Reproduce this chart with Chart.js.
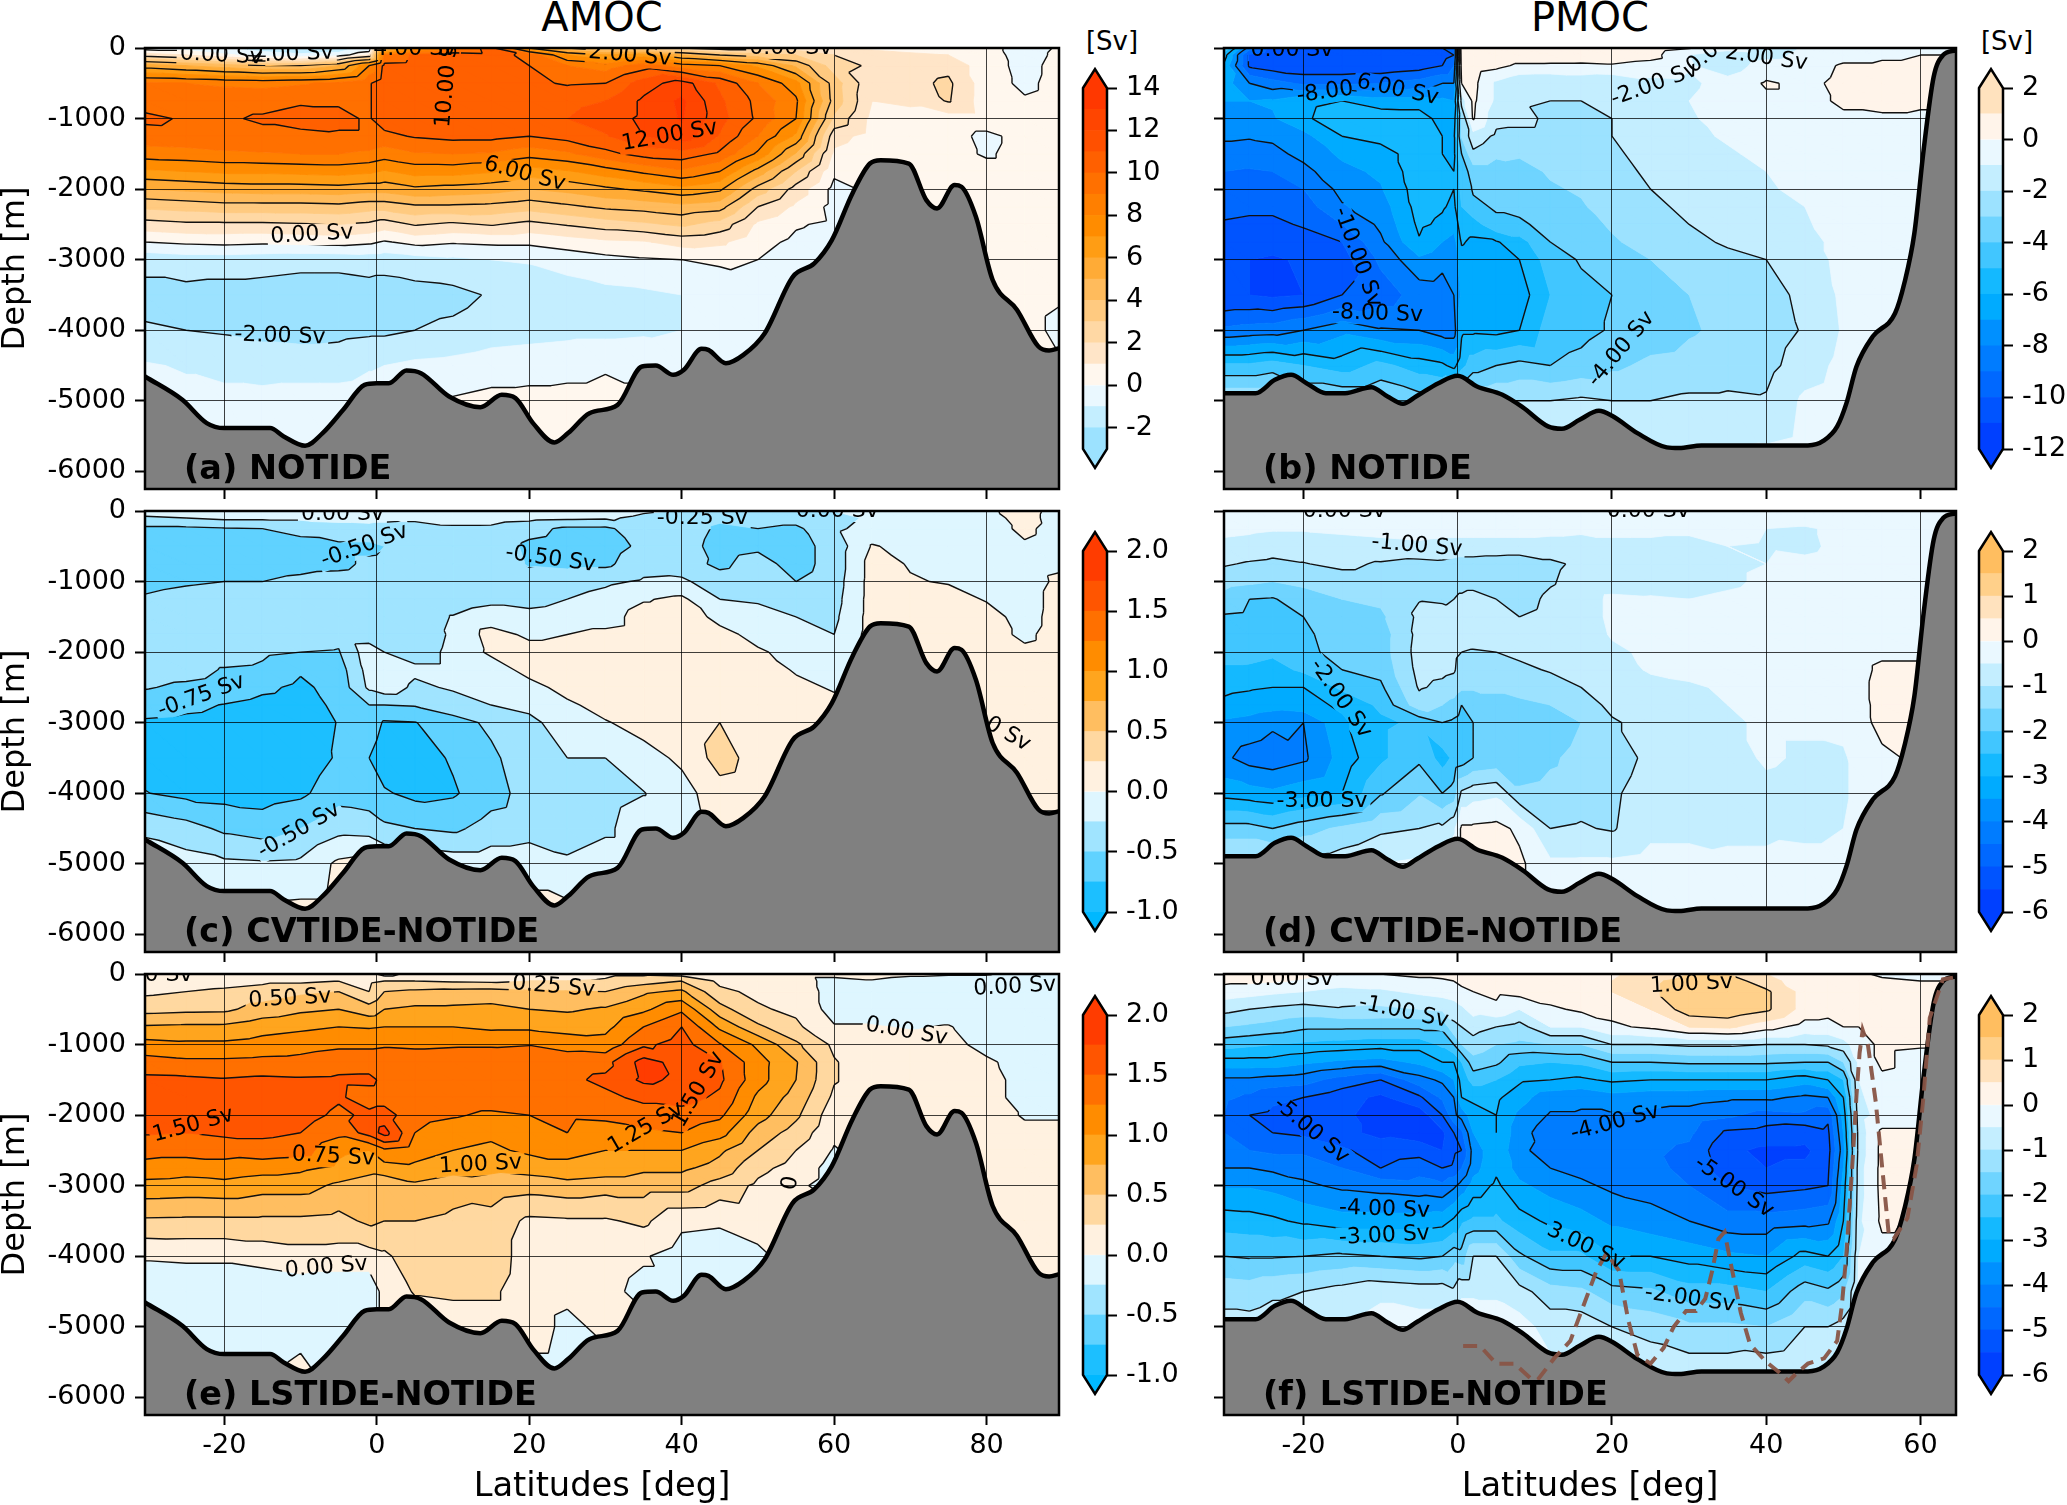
<!DOCTYPE html>
<html>
<head>
<meta charset="utf-8">
<title>AMOC / PMOC</title>
<script src="https://cdn.jsdelivr.net/npm/chart.js@4/dist/chart.umd.min.js"></script>
<style>
html,body{margin:0;padding:0;background:#fff;width:2067px;height:1505px;overflow:hidden}
canvas{position:absolute}
.t{position:absolute;font-family:"DejaVu Sans";color:#000;white-space:nowrap;transform:translateX(-50%)}
</style>
</head>
<body>
<div class="t" style="left:602px;top:-6px;font-size:40px">AMOC</div>
<div class="t" style="left:1590px;top:-6px;font-size:40px">PMOC</div>
<div class="t" style="left:1112px;top:26px;font-size:26px">[Sv]</div>
<div class="t" style="left:2007px;top:26px;font-size:26px">[Sv]</div>
<script>
// depth levels shared by every section [m]
const depths = [0,100,250,500,750,1000,1250,1500,1750,2000,2250,2500,2750,3000,3500,4000,4500,5000,5750];
const atlLat = [-30.4,-25,-20,-15,-10,-5,-1,1,5,10,15,20,25,30,35,40,45,50,55,60,65,70,75,80,85,89.5];
const pacLat = [-30.3,-27,-24,-20,-15,-10,-5,-2,-.5,.5,2,5,8,12,16,20,25,30,35,40,45,50,55,60,64.6];
const pacLatF = [-30.3,-27,-24,-20,-15,-10,-5,-2,-.5,.5,2,5,8,12,16,20,25,30,35,40,45,48,50,52,55,60,64.6];

// bottom topography
const atlBottomLat = [-30.4,-25.5,-22.3,-20,-14,-12.2,-9.4,-7.1,-4.4,-1.6,0,1.6,3.9,5.8,9.5,13.6,16.4,18.2,20.5,23.3,25.1,27.9,31.6,34.8,36.6,38.9,40.3,42.6,43.5,45.8,48.1,50.9,54.6,57.4,59.7,62.4,64.7,66.1,69.8,72.1,73.5,75.8,76.7,78.6,80.8,84,86.8,88.2,89.5];
const atlBottomDepth = [4656,4986,5316,5387,5387,5505,5637,5458,5127,4774,4750,4750,4570,4608,4939,5090,4915,4962,5316,5590,5458,5175,5057,4514,4500,4632,4561,4264,4278,4467,4349,4042,3240,3052,2722,2061,1637,1590,1637,2156,2274,1943,1967,2392,3288,3712,4231,4288,4255];
const pacBottomLat = [-30.3,-26.2,-23.7,-21.6,-19.6,-17.1,-14.6,-11.2,-9.1,-7.1,-5.4,-2.5,0,2.5,5.8,8.4,11.7,13.5,15.8,18.3,20,23.3,27.1,28.7,31.6,45.4,47.5,49.2,50.4,51.7,53.8,56.7,57.9,59.2,60.4,61.7,62.9,64.6];
const pacBottomDepth = [4892,4892,4703,4632,4750,4892,4892,4807,4939,5042,4939,4750,4646,4797,4915,5090,5363,5396,5269,5142,5212,5458,5660,5670,5632,5632,5561,5363,5033,4514,4090,3760,3335,2627,1448,410,104,33];

// dashed line of panel f
const dashLat = [.7,2.9,5,7.35,9.6,10.4,12.5,14.6,16.3,18,19.3,20.9,22.1,23.3,25,26.7,28,29.6,30.9,32.1,33,33.8,34.6,35.4,36.7,37.9,40,41.7,42.9,43.8,45.4,47.5,49.2,49.8,50.4,51.3,51.7,52.1,52.5,53.2,54.2,55,55.9,56.5,58.3,59.5,60.4,61.2,62.9,64.3];
const dashDepth = [5273,5273,5522,5522,5746,5746,5448,5199,4701,4204,3955,4204,4900,5398,5522,5299,5000,4776,4776,4600,4204,3756,3657,4104,4801,5249,5498,5647,5771,5672,5522,5448,5199,4701,3955,2463,1716,1119,796,1020,1816,2711,3706,3756,3458,2711,1716,622,75,50];

// streamfunction [Sv], one row per latitude, values down the depth levels
const amocNotide = [
[-.5,1.5,5.5,9.1,9.6,10.2,9.6,8.5,6.8,5,3.2,1.6,0,-1.7,-2.3,-1.9,-.9,-.6,-.6],
[-.5,1,5,9,9.6,9.9,9.7,8.6,7,5.2,3.4,1.8,.2,-1.5,-2.3,-2,-1.1,-.7,-.7],
[-1,.2,4.5,8.8,9.7,9.9,9.8,8.8,7.2,5.4,3.6,1.8,.3,-1.5,-2.4,-2.1,-1.3,-.7,-.7],
[-1.5,-.5,4,8.7,9.7,10.1,9.8,8.9,7.2,5.5,3.6,1.8,.2,-1.6,-2.4,-2.3,-1.4,-.7,-.7],
[-1.8,-.8,4,8.9,9.9,10.3,9.8,9,7.3,5.5,3.6,1.9,.3,-1.7,-2.5,-2.4,-1.4,-.6,-.6],
[-1.8,-.5,5,9.2,9.9,10.2,9.9,9,7.4,5.6,3.7,2,.4,-1.7,-2.5,-2.3,-1.4,-.6,-.6],
[-1,1,8,9.9,9.9,9.9,9.9,8.8,7.2,5.4,3.4,1.8,.2,-1.6,-2.4,-2.2,-1.1,-.5,-.5],
[4,9,10.3,10.6,10.6,10.6,9.7,8.5,6.9,5.4,3.4,1.5,-.1,-1.6,-2.5,-2.2,-1,-.5,-.5],
[7,10.2,10.4,10.5,10.7,10.7,10.1,8.9,7.4,5.8,3.8,2.1,.3,-1.4,-2.4,-2,-.8,-.3,-.3],
[9,10.5,10.5,10.2,10.7,10.9,10.3,9,7.4,5.6,3.8,1.8,.1,-1.2,-2.3,-1.8,-.7,.1,.1],
[10.4,10.3,10.1,10,10.6,10.6,10.3,8.9,7.1,5.4,3.7,2.1,.2,-1,-1.9,-1.5,-.5,.3,.3],
[6,9.8,10,10.2,10.6,10.7,10,8.4,6.5,5,3.4,1.7,.2,-.9,-1.7,-1.4,-.4,.3,.4],
[4,7,9,9.9,10.7,11,10.4,8.8,6.9,5.3,3.8,2.1,.5,-.6,-1.5,-1.3,-.3,.3,.3],
[3,6,8.5,10,11,11.5,10.9,9.7,7.5,5.8,4.2,2.5,.8,-.3,-1.3,-1.3,-.1,.3,.3],
[2.5,6.5,9.5,11.5,12.2,12.2,12,10.4,8.2,6.2,4.4,2.8,.9,-.1,-1.2,-1.2,-.1,.1,.1],
[2,5,8.5,12.5,13.2,13.1,12.7,10.6,8.8,6.7,4.7,3.2,1.4,0,-1,-1,-.3,-.3,-.3],
[1.5,4,8,10.8,11.2,11.4,10.9,9.8,8,6.2,4.4,2.6,1.2,.2,-.8,-.6,-.5,-.3,-.3],
[1.5,3.5,6.8,9,9.7,9.8,9,7.8,5.6,3.6,2,.8,.3,0,-.5,-.5,-.5,-.3,-.3],
[1.5,3,4.8,7.4,8.2,8,6.8,4.9,3,1.6,.8,.1,-.2,-.5,-.4,-.3,-.3,-.3,-.3],
[1,2,2.5,3.5,3.6,2.8,1.4,.8,.2,-.3,-.3,-.2,-.4,-.4,-.3,-.3,-.3,-.3,-.3],
[.8,1.5,1.8,1.2,1,.7,.6,.3,.2,.2,.2,.2,.2,.2,.2,.2,.2,.2,.2],
[.6,1.2,1.5,1.7,1.2,.6,.4,.3,.3,.3,.3,.3,.3,.3,.3,.3,.3,.3,.3],
[.6,1,1.7,2.2,2.1,.5,.3,.3,.3,.3,.3,.3,.3,.3,.3,.3,.3,.3,.3],
[.3,.4,.4,.4,.4,.5,-.2,-.1,.3,.3,.3,.3,.3,.3,.3,.3,.3,.3,.3],
[-.4,-.4,-.3,-.2,.1,.3,.3,.3,.3,.3,.3,.3,.3,.3,.3,.3,.3,.3,.3],
[.1,.2,.3,.3,.3,.3,.3,.3,.3,.3,.3,.3,.3,.2,.1,-.2,.1,.1,.1]];
const pmocNotide = [
[-4,-5.5,-6.2,-6.5,-7,-7.3,-7.8,-8.5,-9,-9.4,-9.7,-10.1,-10.5,-10.9,-11,-8.8,-4.8,-2,-2],
[-8.5,-10.2,-10.2,-8,-7,-7.3,-7.9,-8.5,-9.1,-9.5,-9.8,-10.2,-10.6,-11,-11,-8.6,-4.8,-2,-2],
[-10.5,-10.8,-10.6,-8.6,-6.9,-7.1,-7.8,-8.3,-9,-9.5,-9.8,-10.2,-10.7,-11.1,-11.2,-8.5,-4.5,-2,-2],
[-10.8,-11,-10.8,-9.2,-6.5,-6.3,-7.3,-7.7,-8.3,-9,-9.5,-9.9,-10.4,-10.9,-11,-8,-5,-3,-3],
[-10.8,-11,-10.8,-9.2,-6,-5,-6,-6.8,-7.3,-7.7,-8.1,-9,-10,-10.4,-10,-7.3,-5.5,-3,-3],
[-10.5,-11,-10.8,-9,-6.5,-5.4,-5.6,-6.5,-6.8,-7.1,-7.5,-7.8,-8.2,-8.8,-9.5,-7.9,-4.7,-3,-3],
[-10,-10.5,-10.5,-8.6,-6.5,-5.5,-5.4,-5.4,-5.4,-5.5,-5.6,-5.8,-6.1,-7.2,-8.6,-8,-5.5,-3.5,-3],
[-10,-10.5,-10,-8,-6.8,-6.4,-6,-6,-5.8,-5.7,-5.9,-6.2,-7,-7.7,-8.5,-8.5,-5.8,-3.5,-3],
[-10,-10,-9,-8,-7,-6.5,-6.2,-6.2,-6,-6,-6.2,-6.6,-7.4,-7.6,-8,-8.5,-6.3,-3,-3],
[1,.8,.6,0,-1.5,-3,-2.9,-4,-4.6,-4.7,-5,-5.5,-5.9,-6.4,-6.8,-6.2,-5.3,-2.5,-2],
[1,.9,.6,.3,.2,.1,-1.4,-2.2,-3.5,-3.9,-4.2,-5.5,-6.2,-6.5,-7,-6.2,-4.5,-2,-2],
[1,.8,.3,-1.2,-1.2,-1.7,-2.2,-2.8,-3.5,-3.8,-3.9,-4.2,-6.1,-6.8,-7,-6.3,-4,-2,-1.5],
[1,.8,-.2,-1.8,-1.9,-1.7,-2.3,-2.9,-3.3,-3.5,-3.7,-4.2,-5.4,-6,-6.5,-6,-3.7,-2,-1.5],
[.9,.7,-.2,-1.9,-2,-2.2,-2.3,-2.5,-2.9,-3.1,-3.4,-3.6,-4,-4.5,-5,-4.5,-4,-2,-1.5],
[.8,.6,-.2,-1.7,-2,-2.2,-2.3,-2.4,-2.6,-2.9,-3.1,-3.3,-3.5,-3.9,-4.3,-4.3,-3.7,-1.8,-1.5],
[.8,.6,-.1,-1.9,-2,-2,-2,-2.1,-2.2,-2.4,-2.6,-2.9,-3.1,-3.4,-4,-3.9,-3.2,-2,-1.3],
[.6,.4,-.4,-1.3,-1.5,-1.6,-1.7,-1.8,-1.9,-2,-2.2,-2.4,-2.7,-3,-3.5,-3.5,-2.8,-2,-1.2],
[.1,-1,-.9,-1.2,-1,-1.1,-1.2,-1.4,-1.6,-1.7,-1.8,-2,-2.2,-2.6,-3,-3.1,-2.7,-1.8,-1],
[-.5,-1.8,-1.6,-.6,-.5,-.7,-.9,-1.1,-1.3,-1.4,-1.5,-1.7,-1.9,-2.2,-2.6,-2.8,-2.5,-1.8,-.9],
[-1.6,-1.4,-.5,.1,-.2,-.4,-.6,-.8,-1,-1.1,-1.3,-1.5,-1.7,-2,-2.3,-2.5,-2.3,-1.9,-.8],
[-.9,-.7,-.4,-.2,-.2,-.3,-.5,-.6,-.7,-.8,-1,-1.1,-1.3,-1.5,-1.8,-1.9,-1.5,-.8,-.6],
[-.5,-.3,.1,.2,.1,-.1,-.2,-.3,-.4,-.5,-.5,-.6,-.7,-.7,-.8,-.9,-.7,-.5,-.4],
[-.2,-.1,.1,.2,.2,-.1,-.2,-.2,-.2,-.3,-.3,-.3,-.3,-.3,-.3,-.3,-.3,-.3,-.3],
[-.2,0,.1,.2,.1,-.1,-.2,-.2,-.2,-.2,-.2,-.2,-.2,-.2,-.2,-.2,-.2,-.2,-.2],
[-.2,0,.1,.2,.1,-.1,-.2,-.2,-.2,-.2,-.2,-.2,-.2,-.2,-.2,-.2,-.2,-.2,-.2]];
const amocCvtide = [
[-.1,-.3,-.55,-.62,-.62,-.55,-.48,-.42,-.38,-.36,-.38,-.48,-.65,-.78,-.85,-.74,-.3,-.1,-.1],
[-.1,-.25,-.55,-.65,-.62,-.52,-.44,-.38,-.36,-.36,-.4,-.55,-.7,-.8,-.9,-.82,-.4,-.15,-.1],
[-.1,-.2,-.52,-.6,-.6,-.5,-.42,-.36,-.33,-.36,-.52,-.6,-.76,-.82,-.9,-.84,-.55,-.2,-.1],
[-.1,-.2,-.5,-.58,-.58,-.5,-.42,-.33,-.33,-.45,-.55,-.7,-.82,-.88,-.92,-.86,-.62,-.22,.1],
[-.1,-.2,-.45,-.56,-.56,-.46,-.4,-.36,-.36,-.5,-.72,-.8,-.85,-.88,-.9,-.8,-.5,-.2,.1],
[-.05,-.18,-.35,-.55,-.55,-.42,-.36,-.36,-.42,-.52,-.62,-.66,-.7,-.74,-.72,-.6,-.33,.05,.1],
[-.05,-.15,-.35,-.55,-.46,-.4,-.35,-.3,-.4,-.1,-.15,-.2,-.5,-.6,-.75,-.65,-.35,.1,.1],
[-.02,-.15,-.4,-.5,-.45,-.4,-.35,-.35,-.42,-.25,-.05,-.1,-.5,-.78,-.9,-.72,-.45,0,.1],
[-.02,-.15,-.45,-.42,-.4,-.38,-.35,-.35,-.38,-.35,-.2,-.3,-.48,-.76,-.87,-.82,-.5,-.05,.05],
[-.02,-.14,-.3,-.33,-.36,-.37,-.35,-.24,-.22,-.2,-.2,-.22,-.36,-.6,-.72,-.78,-.55,-.1,.1],
[-.02,-.15,-.3,-.36,-.36,-.36,-.3,-.15,.1,.05,-.15,-.18,-.25,-.45,-.55,-.6,-.4,-.1,.1],
[-.02,-.18,-.42,-.55,-.52,-.42,-.36,-.15,-.05,.1,.1,-.1,-.2,-.3,-.35,-.4,-.35,-.1,.1],
[-.05,-.2,-.55,-.6,-.55,-.38,-.25,-.1,0,.1,.1,.1,-.05,-.15,-.25,-.3,-.4,-.2,.1],
[-.12,-.22,-.55,-.6,-.55,-.3,-.15,-.1,.05,.1,.1,.12,.1,-.02,-.25,-.35,-.3,-.1,.1],
[-.22,-.3,-.35,-.45,-.35,-.22,-.02,.1,.1,.12,.1,.1,.1,.1,-.1,-.26,-.1,-.1,.1],
[-.26,-.35,-.35,-.38,-.4,-.2,.05,.1,.1,.12,.1,.1,.1,.1,.05,-.1,-.1,-.1,.1],
[-.3,-.45,-.55,-.6,-.55,-.4,-.25,-.05,.05,.1,.1,.1,.1,.25,.35,.15,.1,.1,.1],
[-.3,-.4,-.5,-.55,-.4,-.35,-.3,-.1,-.05,.02,.1,.1,.1,.2,.15,.1,.1,.1,.1],
[-.3,-.4,-.55,-.6,-.6,-.5,-.35,-.25,-.1,-.05,-.02,.05,.1,.1,.1,.1,.1,.1,.1],
[-.25,-.35,-.3,-.4,-.4,-.37,-.34,-.3,-.25,-.1,-.05,-.02,.05,.1,.1,.1,.1,.1,.1],
[-.2,-.2,-.15,.02,.1,.1,.1,.1,.1,.1,.1,.1,.1,.1,.1,.1,.1,.1,.1],
[-.1,-.1,-.15,-.08,-.02,.02,.1,.1,.1,.1,.1,.1,.1,.1,.1,.1,.1,.1,.1],
[-.1,-.12,-.12,-.12,-.1,-.02,.1,.1,.1,.1,.1,.1,.1,.1,.1,.1,.1,.1,.1],
[-.05,-.1,-.1,-.1,-.1,-.08,-.02,.1,.1,.1,.1,.1,.1,.1,.1,.1,.1,.1,.1],
[.1,.1,.05,-.03,-.1,-.12,-.12,-.1,-.05,.05,.1,.1,.1,.1,.1,.1,.1,.1,.1],
[-.1,-.12,-.1,-.1,-.05,.05,.1,.1,.1,.1,.1,.1,.1,.1,.1,.1,-.1,.1,.1]];
const pmocCvtide = [
[0,-.2,-.35,-.65,-.95,-1.3,-1.7,-2.05,-2.2,-2.25,-2.6,-2.9,-3.1,-3.6,-3.9,-3.2,-1.8,-.8,-.8],
[0,-.2,-.4,-.7,-1.05,-1.4,-2,-2.1,-2.2,-2.3,-2.6,-2.95,-3.2,-3.7,-4.2,-3.3,-1.8,-.8,-.8],
[0,-.2,-.45,-.8,-1.1,-1.5,-2.05,-2.2,-2.3,-2.4,-2.7,-3,-3.3,-3.9,-4.3,-3.4,-2,-.8,-.8],
[0,-.2,-.45,-.8,-1.02,-1.4,-1.7,-2,-2.1,-2.15,-2.4,-3,-3.2,-4,-4.1,-3.2,-1.7,-.8,-.8],
[0,-.2,-.4,-.7,-.9,-1.2,-1.5,-1.7,-1.75,-1.8,-2,-2.4,-2.9,-3.1,-3.3,-3,-1.4,-.7,-.7],
[0,-.15,-.35,-.65,-1.05,-1.2,-1.4,-1.6,-1.75,-1.75,-1.85,-2.1,-2.4,-2.6,-2.6,-2.05,-1.1,-.5,-.5],
[0,-.1,-.3,-.6,-1.15,-1.1,-1.02,-.9,-.85,-.8,-.85,-.95,-1.2,-2.4,-2.1,-1.55,-1,-.4,-.4],
[0,-.1,-.3,-.65,-1.1,-1.1,-1.05,-.85,-.8,-.75,-.9,-1.1,-1.5,-2,-2.7,-2,-.9,-.4,-.3],
[0,-.1,-.3,-.7,-1.15,-1.1,-1,-.9,-.8,-.9,-.95,-1.2,-1.7,-2.1,-2.4,-1.8,-.6,-.1,-.1],
[0,-.1,-.3,-.7,-1.2,-1.1,-.95,-.85,-.9,-1,-1.2,-1.4,-2,-2.2,-2.3,-.9,.1,.1,.1],
[0,-.1,-.3,-.7,-1.2,-1.1,-.9,-.85,-.9,-1.02,-1.15,-1.4,-2,-2,-2,-.7,.1,.1,.1],
[0,-.05,-.3,-.7,-1.25,-1.15,-1,-.85,-.9,-1,-1.15,-1.4,-1.7,-1.9,-1.9,-.6,.15,.1,.1],
[0,-.05,-.3,-.7,-1.3,-1.3,-1.2,-1,-.85,-.95,-1.05,-1.2,-1.7,-2,-1.9,-1.4,-.1,.1,.1],
[0,-.1,-.35,-.7,-1.1,-1.05,-.9,-.85,-.85,-.9,-.98,-1.1,-1.5,-1.9,-1.6,-1.3,-1,-.4,-.4],
[0,-.15,-.4,-.7,-.9,-.8,-.75,-.75,-.8,-.85,-.9,-1,-1.2,-1.5,-1.3,-1.2,-.95,-.4,-.4],
[0,-.15,-.4,-.6,-.8,-.75,-.4,-.4,-.45,-.6,-.7,-.8,-.9,-1.05,-1.3,-1.1,-1.05,-.4,-.4],
[0,-.15,-.4,-.6,-.7,-.7,-.45,-.4,-.35,-.4,-.45,-.65,-.75,-.85,-.85,-.7,-.65,-.3,-.3],
[0,-.1,-.4,-.65,-.7,-.7,-.5,-.35,-.35,-.35,-.4,-.55,-.65,-.7,-.75,-.7,-.65,-.3,-.3],
[0,-.05,-.3,-.5,-.6,-.6,-.4,-.35,-.3,-.3,-.4,-.45,-.5,-.55,-.65,-.7,-.6,-.4,-.3],
[0,-.1,-.5,-.55,-.5,-.4,-.3,-.25,-.25,-.25,-.3,-.4,-.4,-.45,-.45,-.6,-.6,-.4,-.3],
[0,-.15,-.6,-.65,-.35,-.3,-.3,-.25,-.25,-.3,-.3,-.35,-.4,-.45,-.55,-.65,-.65,-.3,-.3],
[-.1,-.1,-.3,-.3,-.2,-.25,-.25,-.3,-.3,-.3,-.3,-.3,-.35,-.4,-.55,-.55,-.5,-.3,-.3],
[-.1,-.1,-.2,-.2,-.2,-.2,-.2,-.2,-.2,-.1,.1,.15,.15,.15,-.1,-.2,-.2,-.2,-.2],
[-.1,-.1,-.2,-.2,-.2,-.2,-.15,-.2,-.2,-.1,.1,.2,.2,.2,.1,-.2,-.2,-.2,-.2],
[-.1,-.1,-.2,-.2,-.2,-.2,-.15,-.2,-.2,-.1,.1,.2,.2,.2,.1,-.2,-.2,-.2,-.2]];
const amocLstide = [
[.05,.12,.2,.41,.78,1.09,1.35,1.56,1.6,1.58,1.52,1.35,1.15,.92,.46,.03,-.2,-.1,-.1],
[.05,.12,.25,.44,.8,1.05,1.3,1.55,1.62,1.6,1.5,1.35,1.1,.9,.45,.05,-.2,-.1,-.1],
[.05,.15,.3,.45,.8,1.05,1.3,1.52,1.65,1.62,1.55,1.35,1.15,.92,.45,.05,-.2,-.2,-.1],
[.05,.2,.35,.6,.9,1.1,1.32,1.55,1.67,1.65,1.55,1.4,1.1,.85,.45,.1,-.2,-.2,-.2],
[.05,.2,.45,.7,.95,1.15,1.33,1.53,1.66,1.6,1.5,1.37,1.05,.85,.45,.15,-.15,-.1,.1],
[.05,.25,.5,.75,1,1.2,1.4,1.54,1.53,1.45,1.32,1.05,.95,.7,.42,.15,-.2,-.1,-.1],
[.1,.2,.25,.6,.98,1.2,1.4,1.55,1.4,1.55,1.6,1,.85,.6,.55,.15,-.2,-.2,-.2],
[-.1,.25,.5,.75,1,1.22,1.4,1.45,1.4,1.6,1.85,1.2,.9,.55,.5,.2,.1,.1,.1],
[.1,.25,.55,.8,1,1.2,1.4,1.45,1.38,1.35,1.25,1.1,.95,.7,.5,.4,.27,.1,.1],
[.1,.22,.58,.8,1,1.22,1.4,1.42,1.4,1.28,1.1,1,.85,.6,.45,.4,.3,.1,.1],
[.1,.2,.6,.82,.95,1.22,1.42,1.42,1.4,1.2,1.05,.95,.8,.65,.4,.4,.3,.1,.1],
[.15,.25,.55,.75,.95,1.24,1.4,1.42,1.4,1.25,1.2,1.05,.85,.6,.2,.12,.1,.1,-.1],
[.15,.25,.52,.72,.9,1.15,1.4,1.45,1.32,1.28,1.25,1.05,.95,.65,.22,.1,.05,-.05,-.1],
[.2,.28,.5,.78,.93,1.1,1.42,1.55,1.45,1.3,1.15,1,.9,.6,.22,.08,.05,.05,-.1],
[.2,.4,.7,.95,1.25,1.45,1.85,1.8,1.55,1.4,1.2,1,.8,.6,.3,.02,-.05,.05,.05],
[.15,.5,.8,1.2,1.5,1.6,1.65,1.7,1.6,1.4,1.25,1,.8,.6,.05,-.1,-.05,.05,.05],
[.1,.2,.3,.6,.95,1.27,1.52,1.55,1.45,1.3,1.1,.8,.65,.4,.03,-.12,-.1,.05,.05],
[.1,.15,.2,.28,.55,.95,1.1,1.1,.95,.85,.65,.5,.32,.2,.1,-.05,.05,.05,.05],
[.1,.12,.15,.2,.3,.55,.77,.75,.65,.55,.4,.25,.15,.05,.1,.1,.1,.1,.1],
[.1,-.1,-.1,-.1,.02,.2,.27,.27,.2,.1,.05,-.02,-.1,-.1,.1,.1,.1,.1,.1],
[.1,-.02,-.1,-.15,.02,.1,.1,.1,.1,.1,.1,.1,.1,.1,.1,.1,.1,.1,.1],
[.05,-.1,-.15,-.15,-.02,.1,.1,.1,.1,.1,.1,.1,.1,.1,.1,.1,.1,.1,.1],
[.02,-.1,-.15,-.15,.02,.1,.1,.1,.1,.1,.1,.1,.1,.1,.1,.1,.1,.1,.1],
[.02,-.1,-.15,-.15,-.15,-.1,.05,.1,.1,.1,.1,.1,.1,.1,.1,.1,.1,.1,.1],
[-.1,-.15,-.15,-.15,-.15,-.15,-.12,-.1,-.1,-.02,.05,.1,.1,.1,.1,.1,.1,.1,.1],
[-.1,-.15,-.15,-.15,-.15,-.15,-.12,-.1,-.05,-.02,.05,.1,.1,.1,.1,.1,.1,.1,.1]];
const pmocLstide = [
[.2,.1,-.2,-.85,-1.5,-2.3,-3.2,-4.1,-4.4,-4.5,-4.5,-4.3,-4,-3.55,-2.75,-2,-1.2,-.8,-.8],
[.2,.1,-.3,-1,-1.6,-2.4,-3.2,-4.1,-4.6,-5,-4.9,-4.5,-4,-3.55,-2.8,-2.05,-1.25,-.8,-.8],
[.2,.05,-.4,-1.1,-1.7,-2.5,-3.2,-4.2,-4.9,-5.1,-5,-4.6,-4.1,-3.65,-2.9,-2.05,-1.1,-.7,-.7],
[.1,-.05,-.5,-1.2,-1.9,-2.6,-3.4,-4.3,-5,-5.2,-5.1,-4.6,-4.2,-3.9,-3.1,-2,-1,-.7,-.7],
[0,-.2,-.7,-1.05,-1.9,-2.7,-3.6,-4.7,-5.3,-5.4,-5.4,-4.9,-4.5,-4.1,-3.3,-1.9,-.8,-.6,-.6],
[0,-.2,-.6,-1.1,-1.9,-2.8,-3.7,-5,-5.6,-5.7,-5.6,-5.3,-5,-4.2,-3.3,-2,-.6,-.3,-.3],
[.1,-.1,-.4,-1,-1.9,-2.8,-3.4,-4.2,-5.1,-5.8,-5.8,-5.2,-4.7,-4.3,-3.3,-2.1,-.7,-.3,-.3],
[.2,-.1,-.3,-.9,-1.9,-2.4,-3,-3.9,-4.4,-5,-5.6,-5.5,-5,-4.4,-3.2,-2,-.7,-.3,-.3],
[.2,0,-.2,-.8,-1.1,-2,-3,-3.5,-4,-4.1,-5,-5.1,-4.9,-4.1,-2.9,-1.7,-.9,-.2,-.2],
[.2,.1,-.1,-.6,-1,-1.5,-2.5,-2.8,-3,-3.8,-4.6,-5,-4.5,-3.8,-2.6,-1.8,-.6,-.1,-.1],
[.2,.1,0,-.3,-.8,-1.2,-1.7,-2.3,-2.9,-3.2,-3.5,-3.8,-3.7,-3.3,-2.4,-1,-.6,-.1,-.1],
[.3,.2,.1,-.1,-1,-1.5,-1.9,-2.5,-2.9,-3,-3,-3.1,-3.1,-2.9,-2.4,-1,-.6,-.2,-.2],
[.4,.3,.2,-.5,-1.2,-1.6,-2.4,-2.9,-3.3,-3.6,-3.8,-3.9,-3.7,-3.4,-2.8,-1.9,-.8,-.3,-.3],
[.5,.4,.3,-.1,-.5,-1.5,-2.5,-3,-3.8,-4.05,-4.3,-4.2,-4,-3.7,-3.1,-2.4,-1.3,-.7,-.3],
[.4,.4,.4,.1,-.5,-1.5,-2.4,-3.1,-3.9,-4.05,-4.4,-4.3,-4.15,-3.9,-3.3,-2.4,-1.4,-.7,-.3],
[.4,.5,.5,.2,-.1,-1,-2,-2.9,-3.7,-4.05,-4.4,-4.3,-4.2,-4.1,-3.6,-3,-1.8,-1,-.4],
[.6,.9,.9,.5,.1,-1,-2,-3,-3.8,-4.1,-4.3,-4.4,-4.3,-4.2,-3.8,-3,-1.9,-1.2,-.5],
[1,1.2,1.3,1.3,.5,-.9,-1.9,-3,-3.8,-4.2,-4.4,-4.6,-4.7,-4.5,-4,-3.2,-2.3,-1.4,-.6],
[1,1.3,1.5,1.4,.6,-.9,-1.9,-3,-3.9,-4.4,-5.1,-5.4,-5.3,-5,-4.3,-3.4,-2.3,-1.4,-.6],
[.5,.7,1.1,1.1,.2,-1,-1.9,-3,-3.9,-4.7,-5.2,-5.6,-5.5,-5.2,-4.3,-3.5,-2.5,-1.5,-.5],
[.2,.2,.3,.3,-.2,-1,-2,-3.3,-4.1,-4.6,-5.3,-5.6,-5.4,-5.1,-4.2,-2.8,-1.7,-1,-.4],
[.2,.2,.3,.2,-.2,-.9,-2,-3,-4,-4.9,-5.1,-5.2,-5.1,-5,-4.1,-3,-1.9,-1,-.4],
[.15,.3,.3,.1,0,-.7,-1.5,-2.5,-3,-3.3,-3.5,-3.7,-3.5,-3.3,-3,-2.5,-1.6,-.8,-.3],
[.1,.2,.3,.2,0,-.2,-.4,-.5,-.6,-.7,-.8,-.8,-.7,-.7,-.6,-.5,-.4,-.3,-.2],
[-.1,.1,.2,.2,.1,.1,.1,-.1,-.2,-.3,.1,.15,.15,.15,.1,-.2,-.2,-.2,-.2],
[-.1,0,.1,.2,.1,.05,-.2,-.2,-.3,-.3,.1,.15,.15,.05,-.1,-.2,-.2,-.2,-.2],
[-.1,0,.1,.2,.1,.05,-.2,-.2,-.3,-.3,.1,.15,.15,.05,-.1,-.2,-.2,-.2,-.2]];

// colour steps, coolest first
const blues = ['#0040ff','#0054ff','#0068ff','#007cff','#0090ff','#00abff','#14b9ff','#41c6ff','#6fd4ff','#9ce2ff','#c4eeff','#eaf8ff'];
const warmAmoc = ['#fff7ee','#ffe5c8','#ffd8a4','#ffca80','#ffbb5c','#ffab36','#ff9d14','#ff8c00','#ff7f00','#ff7000','#ff6000','#ff5000','#ff4500','#ff3800'];
const warmPmoc = ['#fff4ea','#ffe2be'];
const warmPmocDiff = ['#fff4ea','#ffe2be','#ffd08a','#ffbe60'];
const diffAmocColors = ['#1cbfff','#60d2ff','#a0e4ff','#def6ff','#fff1e0','#ffd8a0','#ffbe60','#ffa51e','#ff8c00','#ff7000','#ff5500','#ff3c00'];

// contour label text, latitude, depth, rotation
const labelsA = [['0.00 Sv',-20.4,108,3],['2.00 Sv',-11.1,89,-2],['2.00 Sv',33.2,108,5],['0.00 Sv',54.3,0,0],['4.00 Sv',5,15,0],['10.00 Sv',9.3,444,-85],['12.00 Sv',38.4,1247,-10],['6.00 Sv',19.4,1788,15],['0.00 Sv',-8.5,2647,-3],['-2.00 Sv',-12.7,4085,2]];
const labelsB = [['0.00 Sv',-21.5,33,0],['-8.00',-17.2,631,-8],['6.00 Sv',-7.8,594,12],['-2.00 Sv',25.5,519,-20],['0.0',31.8,145,-40],['2.00 Sv',40,145,8],['-10.00 Sv',-13,2965,70],['-8.00 Sv',-10.4,3767,2],['-4.00 Sv',21.2,4270,-50]];
const labelsC = [['0.00 Sv',-4.5,47,0],['-0.50 Sv',-1.6,495,-20],['-0.50 Sv',22.8,682,8],['-0.25 Sv',42.7,103,0],['0.00 Sv',60.4,0,0],['-0.75 Sv',-23,2624,-20],['-0.50 Sv',-10.2,4528,-30],['0 Sv',82.8,3165,30]];
const labelsD = [['0.00 Sv',-14.7,10,0],['0.00 Sv',24.7,10,0],['-1.00 Sv',-5.3,495,5],['-2.00 Sv',-15.2,2660,55],['-3.00 Sv',-17.6,4118,0]];
const labelsE = [['0.00 Sv',-29.6,20,0],['0.50 Sv',-11.4,351,-3],['0.25 Sv',23.2,183,5],['0.00 Sv',83.7,183,-3],['0.00 Sv',69.5,818,10],['1.50 Sv',-24.1,2143,-15],['0.75 Sv',-5.7,2590,3],['1.00 Sv',13.6,2703,-3],['1.25 Sv',35.3,2180,-30],['1.50 Sv',42.2,1639,-60],['0.00 Sv',-6.6,4160,-5],['0',54.3,2965,-80]];
const labelsF = [['0.00 Sv',-21.5,71,0],['1.00 Sv',30.3,146,-3],['-1.00 Sv',-7,538,12],['-5.00 Sv',-19,2218,40],['-4.00 Sv',20.4,2106,-15],['-5.00 Sv',35.8,3021,35],['-4.00 Sv',-9.5,3338,2],['-3.00 Sv',-9.5,3712,-3],['3.00 Sv',16.6,3861,25],['-2.00 Sv',30.1,4608,8]];

const latTicksAtl = [-20,0,20,40,60,80];
const latTicksPac = [-20,0,20,40,60];
const depthTicks = [0,-1000,-2000,-3000,-4000,-5000,-6000];
const font = 'DejaVu Sans';

function steps(lo, hi, d) {
    const out = [];
    for (let i = 0; lo + i * d <= hi + 1e-6; i++) out.push(+(lo + i * d).toFixed(3));
    return out;
}

// clip a triangle [[x,y,v]...] to the value range lo..hi
function clipBand(tri, lo, hi) {
    const cut = (poly, keep, lev) => {
        const out = [];
        for (let i = 0; i < poly.length; i++) {
            const a = poly[i], b = poly[(i + 1) % poly.length];
            const ka = keep(a[2]), kb = keep(b[2]);
            if (ka) out.push(a);
            if (ka !== kb) {
                const t = (lev - a[2]) / (b[2] - a[2]);
                out.push([a[0] + t * (b[0] - a[0]), a[1] + t * (b[1] - a[1]), lev]);
            }
        }
        return out;
    };
    let p = tri;
    if (lo > -Infinity) p = cut(p, v => v >= lo, lo);
    if (p.length && hi < Infinity) p = cut(p, v => v <= hi, hi);
    return p;
}

// draws the field dataset as filled bands and contour lines
const fieldPlugin = {
    id: 'field',
    beforeDraw(chart, args, o) {
        if (!o.edges) return;
        const ctx = chart.ctx, area = chart.chartArea;
        const xs = chart.scales.x, ys = chart.scales.y;
        const pts = chart.data.datasets[0].data;
        const n = o.rows;
        const m = pts.length / n;
        const tris = [];
        for (let i = 0; i < m - 1; i++) {
            for (let j = 0; j < n - 1; j++) {
                const q = [pts[i * n + j], pts[(i + 1) * n + j], pts[(i + 1) * n + j + 1], pts[i * n + j + 1]]
                    .map(p => [xs.getPixelForValue(p.x), ys.getPixelForValue(p.y), p.v + 1e-5]);
                tris.push([q[0], q[1], q[2]], [q[0], q[2], q[3]]);
            }
        }
        ctx.save();
        ctx.beginPath();
        ctx.rect(area.left, area.top, area.width, area.bottom - area.top);
        ctx.clip();
        o.colors.forEach((c, k) => {
            const lo = k === 0 ? -Infinity : o.edges[k];
            const hi = k === o.colors.length - 1 ? Infinity : o.edges[k + 1];
            ctx.beginPath();
            tris.forEach(t => {
                const p = clipBand(t, lo, hi);
                if (p.length < 3) return;
                ctx.moveTo(p[0][0], p[0][1]);
                p.slice(1).forEach(q => ctx.lineTo(q[0], q[1]));
                ctx.closePath();
            });
            ctx.fillStyle = c;
            ctx.strokeStyle = c;
            ctx.lineWidth = 0.8;
            ctx.fill();
            ctx.stroke();
        });
        // contour lines, left open where a label sits
        ctx.font = '22px "' + font + '"';
        ctx.beginPath();
        ctx.rect(area.left, area.top, area.width, area.bottom - area.top);
        o.labels.forEach(l => {
            const w = ctx.measureText(l[0]).width / 2 + 3, h = 11;
            const px = xs.getPixelForValue(l[1]), py = ys.getPixelForValue(-l[2]);
            const a = l[3] * Math.PI / 180, c = Math.cos(a), s = Math.sin(a);
            const pt = (u, v) => [px + u * c - v * s, py + u * s + v * c];
            [[-w, -h], [w, -h], [w, h], [-w, h]].forEach((q, i) => {
                const r = pt(q[0], q[1]);
                i ? ctx.lineTo(r[0], r[1]) : ctx.moveTo(r[0], r[1]);
            });
            ctx.closePath();
        });
        ctx.clip('evenodd');
        ctx.beginPath();
        o.lines.forEach(lev => {
            tris.forEach(t => {
                const cross = [];
                for (let i = 0; i < 3; i++) {
                    const a = t[i], b = t[(i + 1) % 3];
                    if ((a[2] - lev) * (b[2] - lev) < 0) {
                        const f = (lev - a[2]) / (b[2] - a[2]);
                        cross.push([a[0] + f * (b[0] - a[0]), a[1] + f * (b[1] - a[1])]);
                    }
                }
                if (cross.length === 2) {
                    ctx.moveTo(cross[0][0], cross[0][1]);
                    ctx.lineTo(cross[1][0], cross[1][1]);
                }
            });
        });
        ctx.strokeStyle = '#111';
        ctx.lineWidth = 1.4;
        ctx.stroke();
        ctx.restore();
    },
    afterDatasetsDraw(chart, args, o) {
        if (!o.edges) return;
        const ctx = chart.ctx, area = chart.chartArea;
        ctx.save();
        ctx.beginPath();
        ctx.rect(area.left, area.top, area.width, area.bottom - area.top);
        ctx.clip();
        ctx.fillStyle = '#000';
        ctx.font = '22px "' + font + '"';
        ctx.textAlign = 'center';
        ctx.textBaseline = 'middle';
        o.labels.forEach(l => {
            ctx.save();
            ctx.translate(chart.scales.x.getPixelForValue(l[1]), chart.scales.y.getPixelForValue(-l[2]));
            ctx.rotate(l[3] * Math.PI / 180);
            ctx.fillText(l[0], 0, 0);
            ctx.restore();
        });
        ctx.restore();
        ctx.save();
        ctx.strokeStyle = '#000';
        ctx.lineWidth = 2.5;
        ctx.strokeRect(area.left, area.top, area.width, area.bottom - area.top);
        ctx.fillStyle = '#000';
        ctx.font = 'bold 33.5px "' + font + '"';
        ctx.textBaseline = 'middle';
        ctx.fillText(o.title, area.left + 39, area.bottom - 19);
        ctx.restore();
    }
};

function addCanvas(left, top, w, h) {
    const c = document.createElement('canvas');
    c.width = w;
    c.height = h;
    c.style.left = left + 'px';
    c.style.top = top + 'px';
    c.style.width = w + 'px';
    c.style.height = h + 'px';
    document.body.appendChild(c);
    return c;
}

function section(p) {
    const leftGap = 145, topGap = 20, rightGap = 6;
    const botGap = p.xLabels ? 1505 - p.b : 16;
    const cv = addCanvas(p.l - leftGap, p.t - topGap, p.r - p.l + leftGap + rightGap, p.b - p.t + topGap + botGap);
    const field = [];
    p.lats.forEach((lat, i) => depths.forEach((d, j) => field.push({x: lat, y: -d, v: p.values[i][j]})));
    const datasets = [
        {label: 'field', data: field, showLine: false, pointRadius: 0, order: 2},
        {label: 'bottom', data: p.bottomLat.map((x, i) => ({x, y: -p.bottomDepth[i]})), showLine: true, pointRadius: 0, order: 1,
         borderColor: '#000', borderWidth: 4.5, backgroundColor: '#808080', fill: 'start', tension: 0.25, cubicInterpolationMode: 'monotone'}
    ];
    if (p.dash) datasets.push({label: 'dash', data: p.dash, showLine: true, pointRadius: 0, order: 0, borderColor: 'rgba(136,84,70,0.95)', borderWidth: 4, borderDash: [14, 8], fill: false});
    new Chart(cv, {
        type: 'scatter',
        data: {datasets},
        plugins: [fieldPlugin],
        options: {
            responsive: false, animation: false, devicePixelRatio: 1,
            layout: {padding: {top: topGap, right: rightGap, left: 0, bottom: 0}},
            plugins: {
                legend: {display: false}, tooltip: {enabled: false}, title: {display: false},
                field: {rows: depths.length, edges: p.edges, colors: p.colors, lines: p.lines, labels: p.labels, title: p.title}
            },
            scales: {
                x: {
                    type: 'linear', min: p.xMin, max: p.xMax,
                    afterBuildTicks: a => { a.ticks = p.xTicks.map(value => ({value})); },
                    afterFit: a => { a.height = botGap; a.paddingLeft = 0; a.paddingRight = 0; },
                    grid: {color: 'rgba(0,0,0,0.75)', lineWidth: 1, tickLength: 10, tickColor: '#000', tickWidth: 2},
                    border: {display: false},
                    ticks: {display: p.xLabels, autoSkip: false, maxRotation: 0, padding: 5, color: '#000', font: {family: font, size: 27}, callback: v => String(v)},
                    title: {display: p.xLabels, text: 'Latitudes [deg]', color: '#000', font: {family: font, size: 33.7, lineHeight: 1}, padding: {top: 0, bottom: 1}}
                },
                y: {
                    type: 'linear', min: -6250, max: 0,
                    afterBuildTicks: a => { a.ticks = depthTicks.map(value => ({value})); },
                    afterFit: a => { a.width = leftGap; a.paddingTop = 0; a.paddingBottom = 0; },
                    grid: {color: 'rgba(0,0,0,0.75)', lineWidth: 1, tickLength: 10, tickColor: '#000', tickWidth: 2},
                    border: {display: false},
                    ticks: {display: p.yLabels, autoSkip: false, padding: 9, color: '#000', font: {family: font, size: 27}, callback: v => String(v)},
                    title: {display: p.yLabels, text: 'Depth [m]', color: '#000', font: {family: font, size: 32, lineHeight: 1}, padding: {top: 0, bottom: 0}}
                }
            }
        }
    });
}

// the extension tips above and below the colour bar
const tipPlugin = {
    id: 'tips',
    afterDatasetsDraw(chart, args, o) {
        const ctx = chart.ctx, a = chart.chartArea, h = 19;
        const mid = (a.left + a.right) / 2;
        ctx.save();
        ctx.beginPath();
        ctx.moveTo(a.left, a.top);
        ctx.lineTo(mid, a.top - h);
        ctx.lineTo(a.right, a.top);
        ctx.closePath();
        ctx.fillStyle = o.top;
        ctx.fill();
        ctx.beginPath();
        ctx.moveTo(a.left, a.bottom);
        ctx.lineTo(mid, a.bottom + h);
        ctx.lineTo(a.right, a.bottom);
        ctx.closePath();
        ctx.fillStyle = o.bottom;
        ctx.fill();
        ctx.beginPath();
        ctx.moveTo(a.left, a.top);
        ctx.lineTo(mid, a.top - h);
        ctx.lineTo(a.right, a.top);
        ctx.lineTo(a.right, a.bottom);
        ctx.lineTo(mid, a.bottom + h);
        ctx.lineTo(a.left, a.bottom);
        ctx.closePath();
        ctx.strokeStyle = '#000';
        ctx.lineWidth = 2.5;
        ctx.stroke();
        ctx.restore();
    }
};

function colorBar(b) {
    const pad = 30, leftPad = 8, axisW = b.axisW;
    const cv = addCanvas(b.left - leftPad, b.top - pad, leftPad + 24 + axisW, b.bottom - b.top + 2 * pad);
    new Chart(cv, {
        type: 'bar',
        data: {
            labels: [''],
            datasets: b.colors.map((c, k) => ({data: [[b.edges[k], b.edges[k + 1]]], backgroundColor: c, barPercentage: 1, categoryPercentage: 1, grouped: false, borderWidth: 0}))
        },
        plugins: [tipPlugin],
        options: {
            responsive: false, animation: false, devicePixelRatio: 1,
            layout: {padding: {top: pad, bottom: pad, left: leftPad, right: 0}},
            plugins: {legend: {display: false}, tooltip: {enabled: false}, tips: {top: b.colors[b.colors.length - 1], bottom: b.tipLow || b.colors[0]}},
            scales: {
                x: {display: false},
                y: {
                    position: 'right', min: b.edges[0], max: b.edges[b.edges.length - 1],
                    afterBuildTicks: a => { a.ticks = b.ticks.map(value => ({value})); },
                    afterFit: a => { a.width = axisW; a.paddingTop = 0; a.paddingBottom = 0; },
                    grid: {drawOnChartArea: false, tickLength: 10, tickColor: '#000', tickWidth: 2},
                    border: {display: false},
                    ticks: {autoSkip: false, padding: 9, color: '#000', font: {family: font, size: 27}, callback: v => v.toFixed(b.decimals)}
                }
            }
        }
    });
}

const xAtl = {lats: atlLat, bottomLat: atlBottomLat, bottomDepth: atlBottomDepth, xMin: -30.4, xMax: 89.5, xTicks: latTicksAtl, l: 145, r: 1059, yLabels: true};
const xPac = {lats: pacLat, bottomLat: pacBottomLat, bottomDepth: pacBottomDepth, xMin: -30.3, xMax: 64.6, xTicks: latTicksPac, l: 1224, r: 1956, yLabels: false};
const rows = [{t: 48, b: 489}, {t: 511, b: 952}, {t: 974, b: 1415}];

const edgesA = steps(-3, 14, 1), colorsA = blues.slice(-3).concat(warmAmoc);
const edgesB = steps(-12, 2, 1), colorsB = blues.concat(warmPmoc);
const edgesC = steps(-1, 2, .25);
const edgesD = steps(-6, 2, .5), colorsD = blues.concat(warmPmocDiff);
section({...xAtl, ...rows[0], values: amocNotide, edges: edgesA, colors: colorsA, lines: steps(-2, 14, 2), labels: labelsA, title: '(a) NOTIDE', xLabels: false});
section({...xPac, ...rows[0], values: pmocNotide, edges: edgesB, colors: colorsB, lines: steps(-12, 2, 2), labels: labelsB, title: '(b) NOTIDE', xLabels: false});
section({...xAtl, ...rows[1], values: amocCvtide, edges: edgesC, colors: diffAmocColors, lines: steps(-1, 2, .25), labels: labelsC, title: '(c) CVTIDE-NOTIDE', xLabels: false});
section({...xPac, ...rows[1], values: pmocCvtide, edges: edgesD, colors: colorsD, lines: steps(-6, 2, 1), labels: labelsD, title: '(d) CVTIDE-NOTIDE', xLabels: false});
section({...xAtl, ...rows[2], values: amocLstide, edges: edgesC, colors: diffAmocColors, lines: steps(-1, 2, .25), labels: labelsE, title: '(e) LSTIDE-NOTIDE', xLabels: true});
section({...xPac, ...rows[2], lats: pacLatF, values: pmocLstide, edges: edgesD, colors: colorsD, lines: steps(-6, 2, 1), labels: labelsF, title: '(f) LSTIDE-NOTIDE', xLabels: true,
    dash: dashLat.map((x, i) => ({x, y: -dashDepth[i]}))});

colorBar({left: 1083, top: 88, bottom: 449, edges: edgesA, colors: colorsA, ticks: steps(-2, 14, 2), decimals: 0, axisW: 70});
colorBar({left: 1979, top: 88, bottom: 449, edges: edgesB, colors: colorsB, ticks: steps(-12, 2, 2), decimals: 0, axisW: 64});
colorBar({left: 1083, top: 551, bottom: 912, edges: edgesC, colors: diffAmocColors, ticks: steps(-1, 2, .5), decimals: 1, axisW: 70, tipLow: '#00b8ff'});
colorBar({left: 1979, top: 551, bottom: 912, edges: edgesD, colors: colorsD, ticks: steps(-6, 2, 1), decimals: 0, axisW: 64});
colorBar({left: 1083, top: 1015, bottom: 1375, edges: edgesC, colors: diffAmocColors, ticks: steps(-1, 2, .5), decimals: 1, axisW: 70, tipLow: '#00b8ff'});
colorBar({left: 1979, top: 1015, bottom: 1375, edges: edgesD, colors: colorsD, ticks: steps(-6, 2, 1), decimals: 0, axisW: 64});
</script>
</body>
</html>
